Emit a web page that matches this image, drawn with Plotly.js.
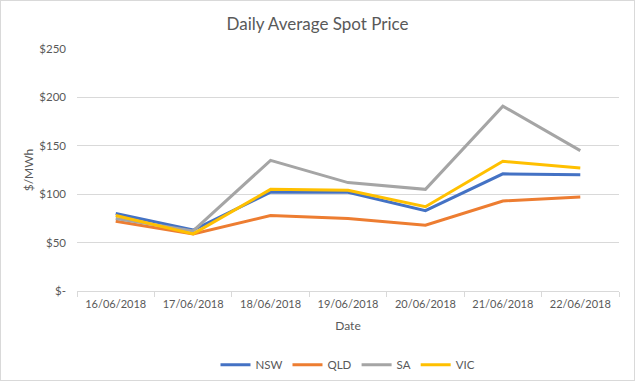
<!DOCTYPE html>
<html>
<head>
<meta charset="utf-8">
<script src="https://cdn.plot.ly/plotly-3.0.1.min.js"></script>
<style>
html,body{margin:0;padding:0;background:#fff;}
#frame{width:635px;height:381px;box-sizing:border-box;border:1px solid #d9d9d9;overflow:hidden;}
#chart{width:633px;height:379px;}
</style>
</head>
<body>
<div id="frame"><div id="chart"></div></div>
<script>
const dates = ["16/06/2018","17/06/2018","18/06/2018","19/06/2018","20/06/2018","21/06/2018","22/06/2018"];
const nsw = [80, 63, 102, 102, 83, 121, 120];
const qld = [72, 59, 78, 75, 68, 93, 97];
const sa  = [75, 62, 135, 112, 105, 191, 145];
const vic = [78, 59, 105, 104, 87, 134, 127];
const seriesNames = ["NSW","QLD","SA","VIC"];
const seriesColors = ["#4472C4","#ED7D31","#A5A5A5","#FFC000"];
const yTickVals = [0,50,100,150,200,250];
const yTickText = ["$-","$50","$100","$150","$200","$250"];

const allSeries = [nsw, qld, sa, vic];
const traces = allSeries.map((vals, i) => ({
  type: "scatter",
  mode: "lines",
  x: dates,
  y: vals,
  name: seriesNames[i],
  line: {color: seriesColors[i], width: 3}
}));

const font = "Lato, 'Open Sans', sans-serif";
const layout = {
  width: 633, height: 379,
  margin: {l: 76, r: 15, t: 48, b: 89, autoexpand: false},
  paper_bgcolor: "#fff", plot_bgcolor: "#fff",
  font: {family: font, color: "#595959", size: 12},
  title: {text: "Daily Average Spot Price", x: 0.5, xanchor: "center", y: 0.94, yanchor: "middle",
          font: {family: font, size: 17, color: "#595959"}},
  xaxis: {
    type: "category",
    range: [-0.5, dates.length - 0.5],
    tickson: "boundaries",
    ticks: "outside", ticklen: 5, tickcolor: "#d9d9d9",
    ticklabelstandoff: 3,
    showline: true, linecolor: "#d9d9d9", linewidth: 1,
    showgrid: false, zeroline: false,
    automargin: false,
    tickfont: {size: 11, color: "#595959"},
    title: {text: "Date", standoff: 12, font: {size: 12, color: "#595959"}},
    fixedrange: true
  },
  yaxis: {
    range: [0, 250],
    tickvals: yTickVals, ticktext: yTickText,
    showgrid: true, gridcolor: "#d9d9d9", gridwidth: 1,
    zeroline: false, showline: false, ticks: "",
    ticklabelstandoff: 10,
    automargin: false,
    tickfont: {size: 11.5, color: "#595959"},
    title: {text: "$/MWh", standoff: 3, font: {size: 12, color: "#595959"}},
    fixedrange: true
  },
  showlegend: true,
  legend: {orientation: "h", x: 0.5, xanchor: "center", y: -0.305, yanchor: "middle",
           font: {size: 11.5, color: "#595959"}, itemwidth: 30, traceorder: "normal"}
};
Plotly.newPlot("chart", traces, layout, {displayModeBar: false, staticPlot: true});
</script>
</body>
</html>
